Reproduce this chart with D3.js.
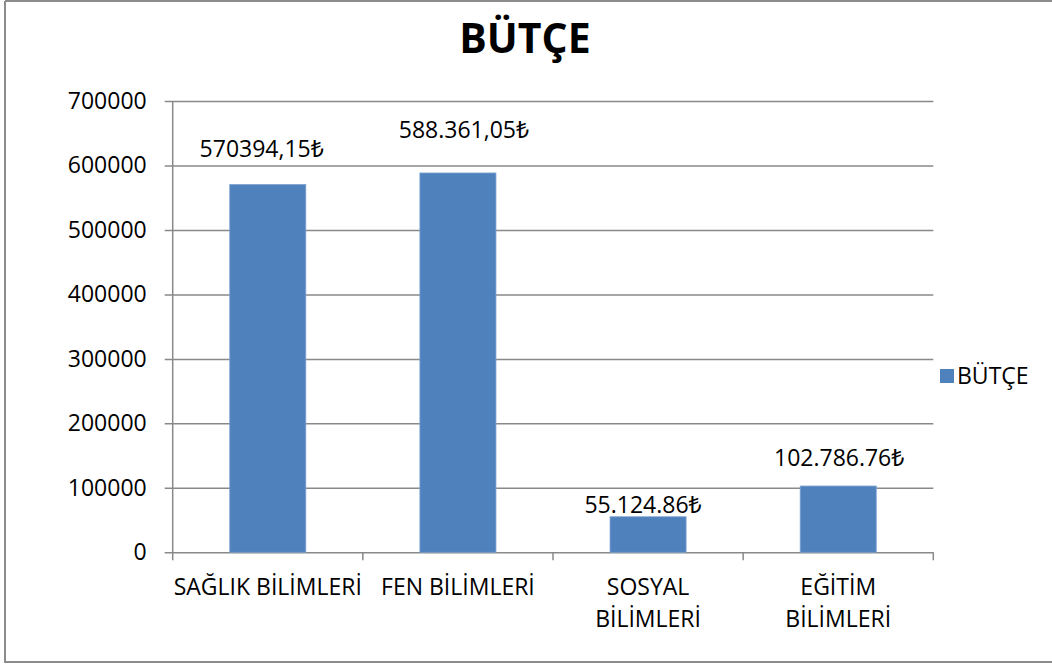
<!DOCTYPE html>
<html>
<head>
<meta charset="utf-8">
<script src="https://cdn.jsdelivr.net/npm/d3@7"></script>
<style>
  body { margin: 0; background: #fff; }
  svg { display: block; font-family: "Open Sans", "Noto Sans", "DejaVu Sans", sans-serif; }
</style>
</head>
<body>
<svg id="chart" width="1052" height="666"></svg>
<script>
// data
let categories = ["SAĞLIK BİLİMLERİ", "FEN BİLİMLERİ", "SOSYAL\nBİLİMLERİ", "EĞİTİM\nBİLİMLERİ"];
let values = [570394.15, 588361.05, 55124.86, 102786.76];
let valueLabels = ["570394,15₺", "588.361,05₺", "55.124.86₺", "102.786.76₺"];
let yTicks = [0, 100000, 200000, 300000, 400000, 500000, 600000, 700000];
let seriesName = "BÜTÇE";

// hand-placed data labels in the original (offset from bar centre / bar top)
let labelDx = [-6, 6, -5, 1];
let labelDy = [-28, -35, -4, -20];

let width = 1052, height = 666;
let plot = {left: 172.7, right: 933.3, top: 101, bottom: 552.3};
let gridColor = "#898989";
let barColor = "#4f81bd";

let svg = d3.select("#chart");

// outer chart border (right edge falls outside the picture)
svg.append("path")
    .attr("d", "M5,1 H1060 M5,1 V662 H1060")
    .attr("fill", "none")
    .attr("stroke", "#8c8c8c")
    .attr("stroke-width", 2);

let x = d3.scaleBand()
    .domain(categories)
    .range([plot.left, plot.right])
    .paddingInner(0.6)
    .paddingOuter(0.3);

let y = d3.scaleLinear()
    .domain([0, 700000])
    .range([plot.bottom, plot.top]);

// y axis with gridlines
let yAxis = svg.append("g")
    .attr("transform", "translate(" + plot.left + ",0)")
    .call(d3.axisLeft(y).tickValues(yTicks).tickFormat(d3.format("d"))
        .tickSizeInner(-(plot.right - plot.left)).tickSizeOuter(0).tickPadding(26));

yAxis.attr("font-family", null).attr("font-size", null);
yAxis.select(".domain").remove();
yAxis.selectAll(".tick line")
    .attr("x1", -8)
    .attr("stroke", gridColor)
    .attr("stroke-width", 1.5);
yAxis.selectAll(".tick text")
    .attr("font-size", 23)
    .attr("fill", "#000");

// vertical axis line
svg.append("line")
    .attr("x1", plot.left).attr("x2", plot.left)
    .attr("y1", plot.top).attr("y2", plot.bottom)
    .attr("stroke", gridColor)
    .attr("stroke-width", 1.5);

// category tick marks at band boundaries
let step = x.step();
let bounds = d3.range(categories.length + 1).map(i => plot.left + i * step);
svg.selectAll(".ctick")
    .data(bounds)
    .enter().append("line")
    .attr("x1", d => d).attr("x2", d => d)
    .attr("y1", plot.bottom).attr("y2", plot.bottom + 8)
    .attr("stroke", gridColor)
    .attr("stroke-width", 1.5);

// bars
svg.selectAll(".bar")
    .data(values)
    .enter().append("rect")
    .attr("class", "bar")
    .attr("x", (d, i) => x(categories[i]))
    .attr("y", d => y(d))
    .attr("width", x.bandwidth())
    .attr("height", d => y(0) - y(d))
    .attr("fill", barColor)
    .attr("stroke", "#7da2d1")
    .attr("stroke-width", 0.8);

// value labels
svg.selectAll(".vlabel")
    .data(values)
    .enter().append("text")
    .attr("x", (d, i) => x(categories[i]) + x.bandwidth() / 2 + labelDx[i])
    .attr("y", (d, i) => y(d) + labelDy[i])
    .attr("text-anchor", "middle")
    .attr("font-size", 23)
    .text((d, i) => valueLabels[i]);

// category labels
categories.forEach(function (c) {
    let cx = x(c) + x.bandwidth() / 2;
    let t = svg.append("text")
        .attr("text-anchor", "middle")
        .attr("font-size", 23);
    c.split("\n").forEach(function (w, j) {
        t.append("tspan").attr("x", cx).attr("y", 595 + j * 32).text(w);
    });
});

// title
svg.append("text")
    .attr("x", 525)
    .attr("y", 53)
    .attr("text-anchor", "middle")
    .attr("font-size", 41)
    .attr("font-weight", "bold")
    .text(seriesName);

// legend
svg.append("rect")
    .attr("x", 940).attr("y", 369)
    .attr("width", 14).attr("height", 14)
    .attr("fill", barColor);
svg.append("text")
    .attr("x", 957)
    .attr("y", 384)
    .attr("font-size", 23)
    .text(seriesName);
</script>
</body>
</html>
